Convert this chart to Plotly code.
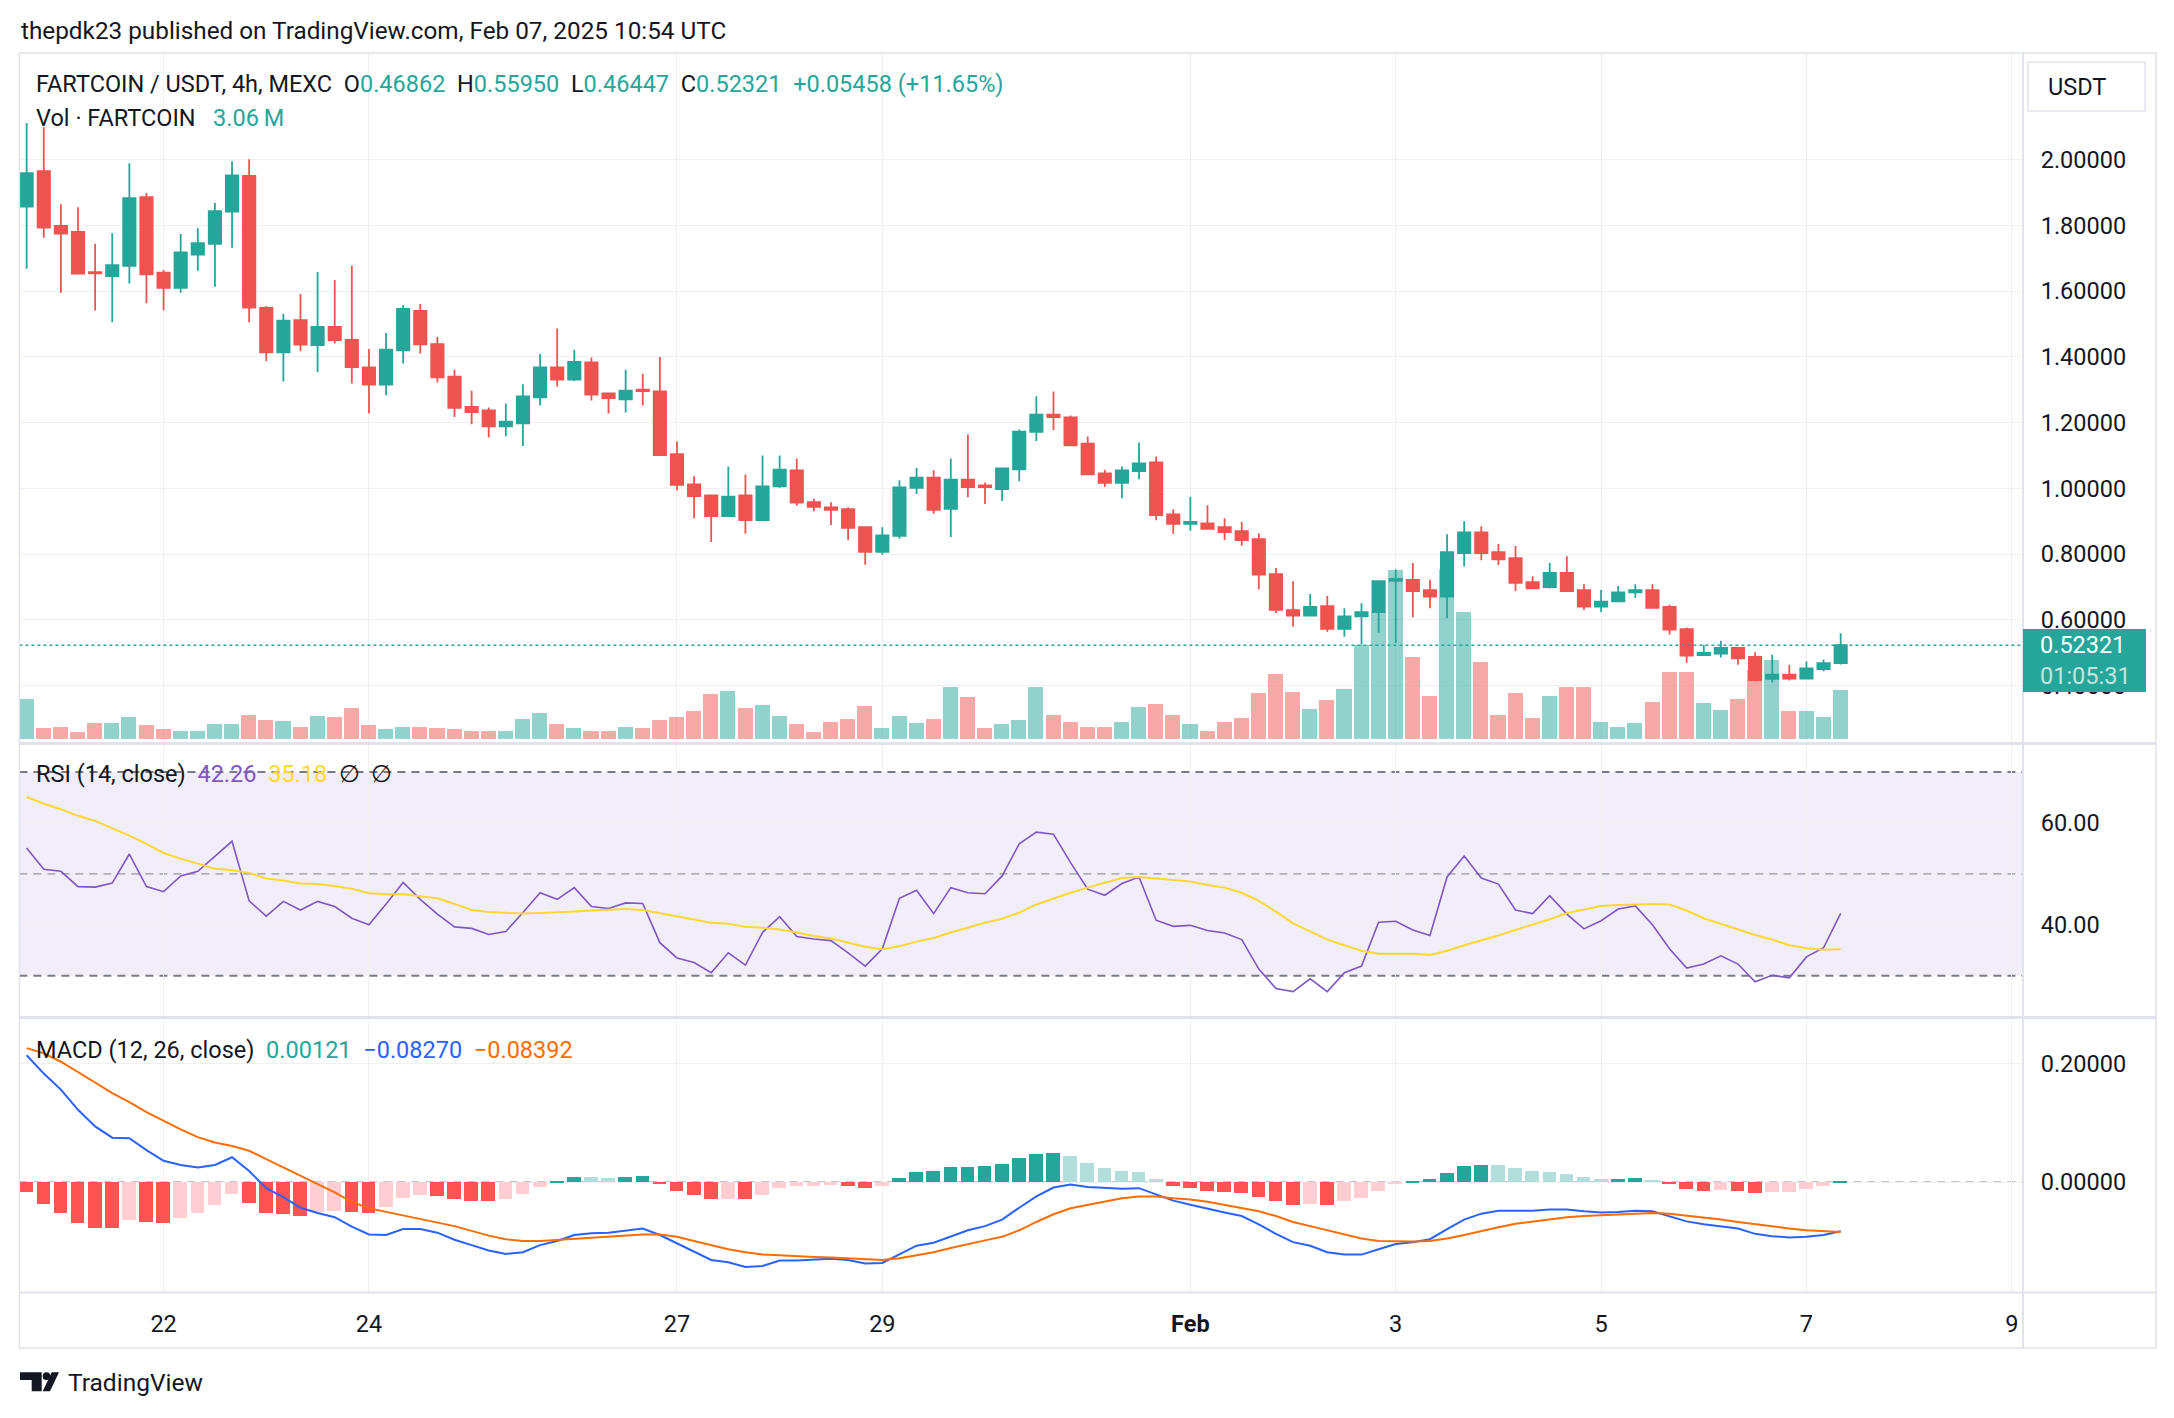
import pandas as pd
import plotly.graph_objects as go

# ---------------- data ----------------
start_time = "2025-01-20 16:00"
n_candles = 107

opens = [1.857, 1.965, 1.798, 1.780, 1.658, 1.646, 1.677, 1.886, 1.656, 1.610,
         1.711, 1.744, 1.842, 1.950, 1.549, 1.414, 1.512, 1.436, 1.491, 1.452,
         1.368, 1.316, 1.420, 1.540, 1.439, 1.340, 1.248, 1.237, 1.189, 1.198,
         1.277, 1.368, 1.331, 1.383, 1.289, 1.271, 1.300, 1.295, 1.104, 1.012,
         0.979, 0.916, 0.979, 0.904, 1.006, 1.055, 0.958, 0.942, 0.937, 0.882,
         0.807, 0.856, 1.002, 1.033, 0.938, 1.027, 1.009, 0.998, 1.058, 1.172,
         1.224, 1.216, 1.136, 1.046, 1.017, 1.053, 1.079, 0.921, 0.892, 0.894,
         0.882, 0.870, 0.846, 0.739, 0.630, 0.613, 0.642, 0.573, 0.611, 0.624,
         0.719, 0.722, 0.691, 0.671, 0.803, 0.866, 0.806, 0.788, 0.715, 0.700,
         0.743, 0.691, 0.641, 0.657, 0.684, 0.691, 0.640, 0.572, 0.493, 0.498,
         0.515, 0.488, 0.421, 0.434, 0.422, 0.451, 0.46862]

highs = [2.111, 2.098, 1.864, 1.855, 1.744, 1.776, 1.989, 1.898, 1.664, 1.774,
         1.791, 1.868, 1.995, 2.001, 1.555, 1.531, 1.591, 1.658, 1.634, 1.677,
         1.424, 1.473, 1.558, 1.561, 1.461, 1.361, 1.297, 1.246, 1.258, 1.317,
         1.409, 1.486, 1.422, 1.398, 1.291, 1.361, 1.349, 1.400, 1.143, 1.037,
         0.979, 1.067, 1.042, 1.100, 1.100, 1.091, 0.969, 0.958, 0.943, 0.885,
         0.882, 1.025, 1.062, 1.055, 1.091, 1.164, 1.018, 1.061, 1.179, 1.280,
         1.295, 1.222, 1.158, 1.057, 1.067, 1.140, 1.097, 0.937, 0.975, 0.949,
         0.909, 0.898, 0.864, 0.758, 0.718, 0.679, 0.673, 0.636, 0.651, 0.718,
         0.754, 0.773, 0.722, 0.861, 0.900, 0.885, 0.831, 0.825, 0.733, 0.773,
         0.794, 0.709, 0.691, 0.703, 0.709, 0.709, 0.646, 0.577, 0.525, 0.537,
         0.518, 0.502, 0.494, 0.463, 0.474, 0.480, 0.55950]

lows = [1.668, 1.762, 1.595, 1.653, 1.541, 1.505, 1.623, 1.563, 1.542, 1.595,
        1.662, 1.613, 1.732, 1.505, 1.387, 1.325, 1.417, 1.353, 1.441, 1.319,
        1.228, 1.283, 1.380, 1.410, 1.322, 1.217, 1.195, 1.155, 1.159, 1.129,
        1.252, 1.310, 1.327, 1.267, 1.228, 1.231, 1.252, 1.101, 0.994, 0.909,
        0.837, 0.916, 0.862, 0.904, 1.002, 0.947, 0.931, 0.889, 0.843, 0.768,
        0.798, 0.847, 0.983, 0.923, 0.852, 0.973, 0.953, 0.962, 1.022, 1.144,
        1.178, 1.131, 1.043, 1.004, 0.970, 1.028, 0.903, 0.862, 0.871, 0.877,
        0.843, 0.826, 0.693, 0.621, 0.580, 0.613, 0.564, 0.549, 0.525, 0.561,
        0.530, 0.608, 0.636, 0.605, 0.763, 0.782, 0.767, 0.688, 0.694, 0.696,
        0.688, 0.630, 0.624, 0.655, 0.667, 0.637, 0.556, 0.470, 0.493, 0.486,
        0.464, 0.414, 0.410, 0.416, 0.422, 0.444, 0.46447]

closes = [1.959, 1.793, 1.775, 1.653, 1.654, 1.679, 1.883, 1.651, 1.610, 1.718,
          1.746, 1.843, 1.952, 1.550, 1.414, 1.510, 1.437, 1.491, 1.451, 1.369,
          1.316, 1.422, 1.546, 1.438, 1.338, 1.245, 1.232, 1.189, 1.203, 1.280,
          1.368, 1.331, 1.385, 1.285, 1.275, 1.297, 1.296, 1.101, 1.011, 0.977,
          0.916, 0.975, 0.904, 1.006, 1.057, 0.957, 0.944, 0.935, 0.880, 0.807,
          0.857, 1.003, 1.033, 0.935, 1.027, 1.004, 1.004, 1.061, 1.173, 1.224,
          1.217, 1.131, 1.043, 1.017, 1.055, 1.076, 0.919, 0.892, 0.898, 0.877,
          0.867, 0.843, 0.738, 0.631, 0.613, 0.640, 0.573, 0.611, 0.624, 0.718,
          0.725, 0.688, 0.671, 0.806, 0.866, 0.803, 0.784, 0.713, 0.696, 0.743,
          0.688, 0.641, 0.656, 0.684, 0.691, 0.637, 0.571, 0.492, 0.500, 0.515,
          0.483, 0.417, 0.434, 0.422, 0.453, 0.46863, 0.52321]

volumes_m = [2.51, 0.68, 0.78, 0.42, 0.99, 0.99, 1.36, 0.86, 0.60, 0.47,
             0.47, 0.92, 0.92, 1.49, 1.18, 1.12, 0.78, 1.44, 1.36, 1.94,
             0.86, 0.60, 0.78, 0.78, 0.68, 0.60, 0.47, 0.47, 0.47, 1.23,
             1.62, 0.92, 0.68, 0.47, 0.47, 0.73, 0.68, 1.18, 1.36, 1.75,
             2.82, 3.01, 1.94, 2.12, 1.44, 0.92, 0.42, 1.05, 1.23, 2.07,
             0.68, 1.44, 0.99, 1.23, 3.27, 2.62, 0.68, 0.92, 1.18, 3.27,
             1.54, 1.05, 0.78, 0.78, 1.05, 1.99, 2.20, 1.54, 0.92, 0.47,
             1.05, 1.31, 2.88, 4.13, 2.95, 1.86, 2.43, 3.14, 5.94, 8.05,
             10.70, 5.20, 2.69, 10.77, 8.05, 4.89, 1.49, 2.88, 1.31, 2.69,
             3.27, 3.27, 1.05, 0.78, 0.99, 2.30, 4.26, 4.26, 2.25, 1.80,
             2.51, 4.34, 4.97, 1.75, 1.75, 1.36, 3.06]

rsi = [55.1, 50.9, 50.5, 47.5, 47.4, 48.2, 53.9, 47.5, 46.5, 49.6,
       50.5, 53.5, 56.4, 44.7, 41.7, 44.6, 42.9, 44.6, 43.6, 41.3,
       40.0, 44.1, 48.3, 45.0, 42.1, 39.6, 39.3, 38.1, 38.7, 42.4,
       46.3, 45.0, 47.3, 43.6, 43.2, 44.3, 44.2, 36.5, 33.5, 32.6,
       30.6, 34.5, 32.1, 38.5, 41.6, 37.7, 37.2, 36.9, 34.5, 31.9,
       35.3, 45.2, 46.8, 42.2, 47.3, 46.3, 46.1, 49.6, 55.9, 58.2,
       57.8, 52.2, 47.0, 45.8, 48.1, 49.4, 40.9, 39.7, 39.9, 38.9,
       38.4, 37.1, 31.3, 27.5, 26.9, 29.4, 26.9, 30.6, 31.9, 40.5,
       40.7, 39.0, 37.9, 49.4, 53.5, 49.2, 48.0, 42.9, 42.2, 45.7,
       42.1, 39.2, 40.8, 43.1, 43.7, 40.0, 35.3, 31.5, 32.3, 33.9,
       32.3, 28.8, 30.1, 29.6, 33.7, 35.5, 42.26]

rsi_ma = [65.1, 63.8, 62.7, 61.4, 60.4, 59.0, 57.5, 55.9, 54.1, 53.0,
          52.0, 51.0, 50.7, 50.2, 49.1, 48.7, 48.1, 48.0, 47.6, 47.1,
          46.2, 46.0, 46.0, 45.6, 45.2, 44.1, 42.9, 42.5, 42.3, 42.2,
          42.3, 42.4, 42.6, 42.8, 43.0, 43.1, 42.9, 42.3, 41.7, 41.1,
          40.4, 40.2, 39.6, 39.4, 39.1, 38.5, 37.8, 37.3, 36.5, 35.7,
          35.2, 35.8, 36.7, 37.4, 38.5, 39.5, 40.4, 41.2, 42.4, 44.0,
          45.2, 46.3, 47.3, 48.3, 49.2, 49.4, 49.1, 48.9, 48.5, 47.8,
          47.3, 46.3, 44.7, 42.6, 40.3, 38.7, 37.1, 36.0, 34.9, 34.3,
          34.3, 34.3, 34.1, 34.9, 36.0, 36.9, 37.9, 39.0, 40.0, 41.1,
          42.3, 43.0, 43.7, 43.9, 44.0, 44.1, 44.0, 42.8, 41.3, 40.2,
          39.1, 38.0, 37.1, 36.0, 35.4, 35.1, 35.18]

macd = [0.214, 0.183, 0.156, 0.122, 0.094, 0.075, 0.074, 0.054, 0.036, 0.029,
        0.025, 0.029, 0.042, 0.019, -0.010, -0.025, -0.043, -0.052, -0.059, -0.075,
        -0.088, -0.089, -0.079, -0.079, -0.085, -0.097, -0.106, -0.115, -0.121, -0.118,
        -0.106, -0.099, -0.089, -0.086, -0.085, -0.081, -0.078, -0.089, -0.103, -0.117,
        -0.131, -0.135, -0.143, -0.141, -0.132, -0.132, -0.131, -0.129, -0.131, -0.137,
        -0.136, -0.121, -0.107, -0.102, -0.091, -0.081, -0.074, -0.063, -0.043, -0.024,
        -0.009, -0.004, -0.008, -0.010, -0.011, -0.010, -0.021, -0.031, -0.038, -0.045,
        -0.051, -0.057, -0.071, -0.087, -0.101, -0.107, -0.118, -0.122, -0.122, -0.113,
        -0.104, -0.101, -0.096, -0.079, -0.063, -0.053, -0.048, -0.048, -0.048, -0.046,
        -0.046, -0.049, -0.051, -0.050, -0.048, -0.049, -0.057, -0.066, -0.071, -0.075,
        -0.078, -0.087, -0.091, -0.093, -0.092, -0.089, -0.08270]

signal = [0.226, 0.217, 0.203, 0.186, 0.168, 0.150, 0.135, 0.118, 0.103, 0.089,
          0.076, 0.067, 0.061, 0.053, 0.039, 0.025, 0.011, -0.003, -0.017, -0.033,
          -0.044, -0.050, -0.056, -0.061, -0.067, -0.074, -0.082, -0.090, -0.096, -0.099,
          -0.099, -0.097, -0.096, -0.094, -0.092, -0.090, -0.088, -0.088, -0.092, -0.099,
          -0.106, -0.113, -0.118, -0.122, -0.123, -0.125, -0.126, -0.127, -0.128, -0.129,
          -0.131, -0.128, -0.123, -0.118, -0.111, -0.104, -0.098, -0.092, -0.081, -0.067,
          -0.054, -0.044, -0.038, -0.032, -0.027, -0.024, -0.024, -0.027, -0.029, -0.033,
          -0.038, -0.043, -0.049, -0.057, -0.067, -0.074, -0.081, -0.088, -0.095, -0.099,
          -0.100, -0.100, -0.099, -0.095, -0.089, -0.082, -0.076, -0.070, -0.066, -0.062,
          -0.059, -0.057, -0.056, -0.054, -0.053, -0.052, -0.053, -0.056, -0.059, -0.063,
          -0.067, -0.071, -0.075, -0.078, -0.081, -0.082, -0.08392]

hist = [-0.017, -0.036, -0.052, -0.068, -0.077, -0.077, -0.064, -0.067, -0.068, -0.060,
        -0.052, -0.038, -0.020, -0.035, -0.052, -0.053, -0.057, -0.050, -0.049, -0.051,
        -0.052, -0.042, -0.027, -0.022, -0.023, -0.028, -0.031, -0.032, -0.029, -0.020,
        -0.008, 0.002, 0.009, 0.009, 0.007, 0.009, 0.011, -0.002, -0.014, -0.022,
        -0.029, -0.028, -0.029, -0.021, -0.010, -0.007, -0.006, -0.004, -0.006, -0.009,
        -0.007, 0.007, 0.018, 0.019, 0.025, 0.026, 0.028, 0.031, 0.040, 0.047,
        0.049, 0.044, 0.033, 0.024, 0.019, 0.017, 0.005, -0.006, -0.010, -0.014,
        -0.017, -0.018, -0.025, -0.032, -0.038, -0.036, -0.038, -0.032, -0.026, -0.014,
        -0.003, 0.002, 0.005, 0.015, 0.027, 0.029, 0.029, 0.024, 0.019, 0.017,
        0.014, 0.009, 0.005, 0.006, 0.007, 0.004, -0.002, -0.011, -0.014, -0.013,
        -0.014, -0.018, -0.017, -0.016, -0.011, -0.006, 0.00121]

price_ticks = [0.4, 0.6, 0.8, 1.0, 1.2, 1.4, 1.6, 1.8, 2.0]
rsi_ticks = [40, 60]
macd_ticks = [0.0, 0.2]
date_ticks = ["2025-01-22", "2025-01-24", "2025-01-27", "2025-01-29", "2025-02-01",
              "2025-02-03", "2025-02-05", "2025-02-07", "2025-02-09"]
date_labels = ["22", "24", "27", "29", "Feb", "3", "5", "7", "9"]
countdown = "01:05:31"

# ---------------- styling / layout ----------------
W, H = 2174, 1418
def px(x):
    return x / W
def py(y):
    return 1 - y / H

UP, DN = "#26a69a", "#ef5350"
TXT = "#131722"
GRID = "#f0f0f0"
FRAME = "#e0e3eb"
FONT = "Roboto, 'Noto Sans', sans-serif"
FS = 23.5

times = pd.date_range(start_time, periods=n_candles, freq="4h")
bar_ms = 4 * 3600 * 1000

vol_colors = ["rgba(38,166,154,0.5)" if c >= o else "rgba(239,83,80,0.5)"
              for o, c in zip(opens, closes)]
hist_colors = []
for i, h in enumerate(hist):
    prev = hist[i - 1] if i > 0 else h
    rising = prev < h
    if h >= 0:
        hist_colors.append("#26a69a" if rising else "#b2dfdb")
    else:
        hist_colors.append("#ffcdd2" if rising else "#ff5252")

fig = go.Figure()
fig.add_trace(go.Bar(x=times, y=volumes_m, marker_color=vol_colors, marker_line_width=0,
                     width=0.88 * bar_ms, xaxis="x", yaxis="y", showlegend=False,
                     hoverinfo="skip"))
fig.add_trace(go.Candlestick(x=times, open=opens, high=highs, low=lows, close=closes,
                             xaxis="x", yaxis="y2", showlegend=False,
                             increasing=dict(line=dict(color=UP, width=1.8), fillcolor=UP),
                             decreasing=dict(line=dict(color=DN, width=1.8), fillcolor=DN),
                             whiskerwidth=0))
fig.add_trace(go.Scatter(x=times, y=rsi, mode="lines", line=dict(color="#7e57c2", width=1.6),
                         xaxis="x2", yaxis="y3", showlegend=False))
fig.add_trace(go.Scatter(x=times, y=rsi_ma, mode="lines", line=dict(color="#fdd835", width=2),
                         xaxis="x2", yaxis="y3", showlegend=False))
fig.add_trace(go.Bar(x=times, y=hist, marker_color=hist_colors, marker_line_width=0,
                     width=0.8 * bar_ms, xaxis="x3", yaxis="y4", showlegend=False))
fig.add_trace(go.Scatter(x=times, y=macd, mode="lines", line=dict(color="#2962ff", width=2),
                         xaxis="x3", yaxis="y4", showlegend=False))
fig.add_trace(go.Scatter(x=times, y=signal, mode="lines", line=dict(color="#ff6d00", width=2),
                         xaxis="x3", yaxis="y4", showlegend=False))

XD = [px(19.4), px(2023)]
price_dom = [py(742), py(53)]
rsi_dom = [py(1016), py(745)]
macd_dom = [py(1292), py(1019)]
x_range = [pd.Timestamp("2025-01-20 14:18"), pd.Timestamp("2025-02-09 02:37")]
tick_text = ["<b>%s</b>" % t if t.isalpha() else t for t in date_labels]

xcommon = dict(type="date", range=x_range, domain=XD, tickvals=date_ticks, showgrid=True,
               gridcolor=GRID, gridwidth=1, zeroline=False, showline=False)
ycommon = dict(side="right", showgrid=True, gridcolor=GRID, gridwidth=1, zeroline=False,
               showline=False, ticks="outside", ticklen=12, tickcolor="rgba(0,0,0,0)",
               tickfont=dict(size=FS, color=TXT, family=FONT), fixedrange=True)

fig.update_layout(
    width=W, height=H, margin=dict(l=0, r=0, t=0, b=0),
    paper_bgcolor="white", plot_bgcolor="white",
    font=dict(family=FONT, color=TXT, size=FS),
    hovermode=False, bargap=0, boxgap=0.2, boxgroupgap=0.1, showlegend=False,
    xaxis=dict(xcommon, anchor="y", showticklabels=False, rangeslider=dict(visible=False)),
    xaxis2=dict(xcommon, anchor="y3", matches="x", showticklabels=False),
    xaxis3=dict(xcommon, anchor="y4", matches="x", showticklabels=True, ticktext=tick_text,
                ticks="outside", ticklen=11, tickcolor="rgba(0,0,0,0)",
                tickfont=dict(size=FS, color=TXT, family=FONT)),
    yaxis=dict(domain=price_dom, anchor="x", range=[-0.2, 43.4], visible=False,
               showgrid=False, fixedrange=True),
    yaxis2=dict(ycommon, overlaying="y", anchor="x", range=[0.229, 2.324],
                tickvals=price_ticks, tickformat=".5f"),
    yaxis3=dict(ycommon, domain=rsi_dom, anchor="x2", range=[22.1, 75.3],
                tickvals=rsi_ticks, tickformat=".2f"),
    yaxis4=dict(ycommon, domain=macd_dom, anchor="x3", range=[-0.185, 0.275],
                tickvals=macd_ticks, tickformat=".5f"),
)

shapes = []
# RSI band and levels
shapes.append(dict(type="rect", xref="x2 domain", yref="y3", x0=0, x1=1, y0=30, y1=70,
                   fillcolor="rgba(126,87,194,0.1)", line=dict(width=0), layer="below"))
for lvl, col in [(70, "#787b86"), (30, "#787b86"), (50, "rgba(120,123,134,0.55)")]:
    shapes.append(dict(type="line", xref="x2 domain", yref="y3", x0=0, x1=1, y0=lvl, y1=lvl,
                       line=dict(color=col, width=1.8, dash="8px,6px"), layer="below"))
# MACD zero line
shapes.append(dict(type="line", xref="x3 domain", yref="y4", x0=0, x1=1, y0=0, y1=0,
                   line=dict(color="#b2b5be", width=1.8, dash="8px,6px"), layer="below"))
# last price dotted line
shapes.append(dict(type="line", xref="x domain", yref="y2", x0=0, x1=1,
                   y0=closes[-1], y1=closes[-1],
                   line=dict(color=UP, width=1.6, dash="dot"), layer="above"))
# frame
shapes.append(dict(type="rect", xref="paper", yref="paper", x0=px(19.4), x1=px(2156),
                   y0=py(1348), y1=py(53), line=dict(color=FRAME, width=1.5), layer="above"))
shapes.append(dict(type="line", xref="paper", yref="paper", x0=px(2023), x1=px(2023),
                   y0=py(1348), y1=py(53), line=dict(color=FRAME, width=2), layer="above"))
for yy in (743.5, 1017.5):
    shapes.append(dict(type="line", xref="paper", yref="paper", x0=px(19.4), x1=px(2156),
                       y0=py(yy), y1=py(yy), line=dict(color=FRAME, width=3), layer="above"))
shapes.append(dict(type="line", xref="paper", yref="paper", x0=px(19.4), x1=px(2156),
                   y0=py(1292.5), y1=py(1292.5), line=dict(color=FRAME, width=2), layer="above"))
# USDT box
shapes.append(dict(type="rect", xref="paper", yref="paper", x0=px(2028), x1=px(2145),
                   y0=py(111), y1=py(62), line=dict(color=FRAME, width=1.5), layer="above"))
# TradingView logo
LX, LY = 20, 1372.3
def lp(pts):
    return "M " + " L ".join("%f,%f" % (px(LX + a), py(LY + b)) for a, b in pts) + " Z"
shapes.append(dict(type="path", xref="paper", yref="paper",
                   path=lp([(0, 0), (21.7, 0), (21.7, 19), (11.7, 19), (11.7, 7.7), (0, 7.7)]),
                   fillcolor=TXT, line=dict(width=0), layer="above"))
shapes.append(dict(type="circle", xref="paper", yref="paper",
                   x0=px(LX + 22.7), x1=px(LX + 30.3), y0=py(LY + 7.7), y1=py(LY + 0),
                   fillcolor=TXT, line=dict(width=0), layer="above"))
shapes.append(dict(type="path", xref="paper", yref="paper",
                   path=lp([(31.7, 0), (39, 0), (30, 19), (22.7, 19)]),
                   fillcolor=TXT, line=dict(width=0), layer="above"))
fig.update_layout(shapes=shapes)

def span(txt, col):
    return "<span style='color:%s'>%s</span>" % (col, txt)

NB = "\u00a0"
GAP = NB * 2
chg = closes[-1] - closes[-2]
pct = chg / closes[-2] * 100
line1 = ("FARTCOIN / USDT, 4h, MEXC" + GAP +
         "O" + span("%.5f" % opens[-1], UP) + GAP +
         "H" + span("%.5f" % highs[-1], UP) + GAP +
         "L" + span("%.5f" % lows[-1], UP) + GAP +
         "C" + span("%.5f" % closes[-1], UP) + GAP +
         span("%+.5f (%+.2f%%)" % (chg, pct), UP))
line2 = "Vol · FARTCOIN" + NB * 3 + span("%.2f" % volumes_m[-1] + "\u2009M", UP)
rsi_leg = ("RSI (14, close)" + GAP + span("%.2f" % rsi[-1], "#7e57c2") + GAP +
           span("%.2f" % rsi_ma[-1], "#fdd835") + GAP + "∅" + GAP + "∅")
def fmt_m(v):
    return ("%.5f" % v).replace("-", "\u2212")
macd_leg = ("MACD (12, 26, close)" + GAP + span(fmt_m(hist[-1]), "#26a69a") + GAP +
            span(fmt_m(macd[-1]), "#2962ff") + GAP + span(fmt_m(signal[-1]), "#ff6d00"))

ann = []
def text_ann(x, y, txt, size=FS, xanchor="left", **kw):
    d = dict(xref="paper", yref="paper", x=px(x), y=py(y), text=txt, showarrow=False,
             xanchor=xanchor, yanchor="middle", font=dict(size=size, color=TXT, family=FONT))
    d.update(kw)
    ann.append(d)

text_ann(19, 31, "thepdk23 published on TradingView.com, Feb 07, 2025 10:54 UTC", size=24.3)
text_ann(34, 84.5, line1)
text_ann(34, 118, line2)
text_ann(34, 774, rsi_leg)
text_ann(34, 1050, macd_leg)
text_ann(2077, 87, "USDT", xanchor="center")
text_ann(66, 1382, "TradingView", size=24.5)
ann.append(dict(xref="paper", yref="y2", x=px(2023), y=closes[-1], xanchor="left",
                yanchor="top", yshift=16.7, showarrow=False, align="left",
                text="\u2002%.5f<br>\u2002%s" % (closes[-1],
                                              span(countdown, "rgba(255,255,255,0.72)")),
                font=dict(size=FS, color="white", family=FONT),
                bgcolor=UP, bordercolor=UP, borderpad=4, width=113, height=53))
fig.update_layout(annotations=ann)

fig.write_html("out.html", config={"displayModeBar": False},
               post_script="document.body.style.margin='0';")
